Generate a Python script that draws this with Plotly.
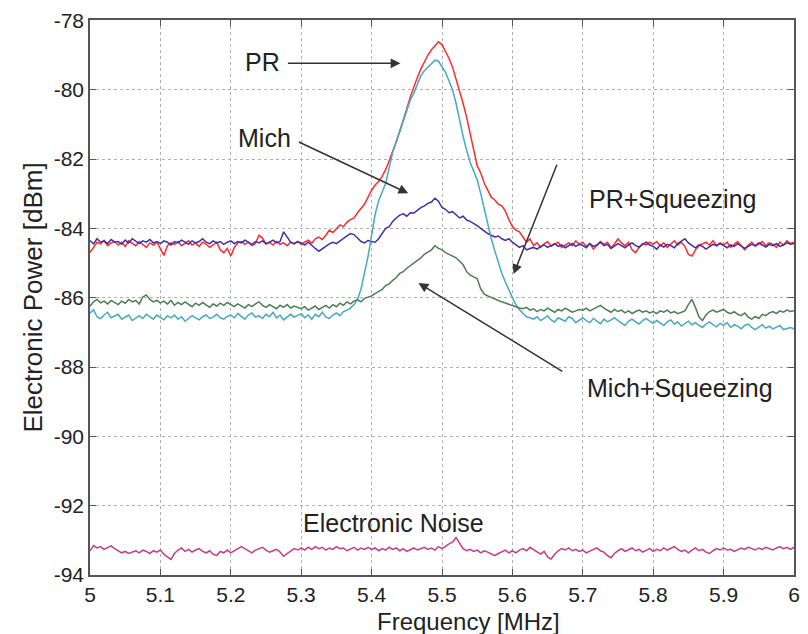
import numpy as np
import plotly.graph_objects as go

# frequency grid (MHz), 0.005 MHz steps from 5.0 to 6.0
freq = np.round(np.linspace(5.0, 6.0, 201), 3)

pr = [
    -84.70, -84.55, -84.40, -84.45, -84.35, -84.50, -84.42, -84.38, -84.48, -84.40, -84.52, -84.36, -84.44, -84.50, -84.38, -84.46, -84.55, -84.42, -84.48, -84.40,
    -84.60, -84.78, -84.50, -84.42, -84.46, -84.38, -84.50, -84.44, -84.36, -84.48, -84.42, -84.52, -84.40, -84.46, -84.55, -84.48, -84.40, -84.62, -84.70, -84.58,
    -84.80, -84.55, -84.42, -84.38, -84.46, -84.40, -84.50, -84.44, -84.20, -84.28, -84.45, -84.40, -84.48, -84.38, -84.46, -84.42, -84.50, -84.40, -84.45, -84.38,
    -84.46, -84.40, -84.34, -84.42, -84.30, -84.25, -84.32, -84.20, -84.05, -84.12, -84.00, -83.90, -83.95, -83.82, -83.75, -83.70, -83.55, -83.42, -83.30, -83.10,
    -82.90, -82.75, -82.65, -82.50, -82.30, -82.05, -81.80, -81.50, -81.20, -80.90, -80.55, -80.20, -79.90, -79.65, -79.40, -79.20, -79.00, -78.85, -78.75, -78.62,
    -78.70, -78.90, -79.10, -79.35, -79.70, -80.00, -80.40, -80.80, -81.30, -81.75, -82.20, -82.40, -82.70, -82.90, -83.10, -83.18, -83.30, -83.35, -83.50, -83.75,
    -83.95, -84.05, -84.10, -84.25, -84.40, -84.30, -84.50, -84.42, -84.55, -84.45, -84.38, -84.52, -84.46, -84.40, -84.55, -84.48, -84.42, -84.50, -84.36, -84.46,
    -84.40, -84.52, -84.44, -84.60, -84.50, -84.38, -84.46, -84.40, -84.55, -84.45, -84.30, -84.42, -84.50, -84.40, -84.62, -84.70, -84.55, -84.44, -84.48, -84.40,
    -84.46, -84.38, -84.50, -84.42, -84.55, -84.45, -84.36, -84.48, -84.40, -84.52, -84.75, -84.80, -84.62, -84.50, -84.44, -84.40, -84.48, -84.36, -84.50, -84.42,
    -84.48, -84.40, -84.55, -84.45, -84.38, -84.50, -84.62, -84.48, -84.40, -84.52, -84.44, -84.38, -84.50, -84.42, -84.46, -84.55, -84.40, -84.48, -84.36, -84.44,
    -84.40,
]

mich = [
    -84.35, -84.45, -84.30, -84.40, -84.36, -84.44, -84.32, -84.40, -84.38, -84.46, -84.34, -84.42, -84.30, -84.38, -84.44, -84.36, -84.40, -84.32, -84.42, -84.38,
    -84.44, -84.36, -84.40, -84.48, -84.38, -84.42, -84.34, -84.40, -84.46, -84.36, -84.42, -84.38, -84.30, -84.40, -84.44, -84.36, -84.42, -84.38, -84.46, -84.40,
    -84.36, -84.44, -84.38, -84.42, -84.34, -84.40, -84.46, -84.38, -84.42, -84.36, -84.44, -84.40, -84.34, -84.42, -84.38, -84.10, -84.25, -84.40, -84.44, -84.38,
    -84.42, -84.48, -84.40, -84.50, -84.58, -84.66, -84.60, -84.52, -84.45, -84.40, -84.44, -84.36, -84.30, -84.22, -84.15, -84.18, -84.28, -84.38, -84.42, -84.35,
    -84.38, -84.40, -84.30, -84.15, -84.00, -83.95, -83.80, -83.70, -83.62, -83.58, -83.65, -83.55, -83.56, -83.48, -83.40, -83.35, -83.28, -83.24, -83.13, -83.22,
    -83.40, -83.45, -83.55, -83.52, -83.60, -83.70, -83.65, -83.76, -83.80, -83.85, -83.92, -84.00, -84.08, -84.15, -84.20, -84.25, -84.22, -84.30, -84.35, -84.30,
    -84.40, -84.48, -84.55, -84.50, -84.62, -84.58, -84.55, -84.60, -84.52, -84.48, -84.55, -84.50, -84.44, -84.52, -84.48, -84.56, -84.50, -84.44, -84.52, -84.46,
    -84.50, -84.56, -84.44, -84.52, -84.48, -84.40, -84.50, -84.46, -84.58, -84.52, -84.44, -84.50, -84.56, -84.48, -84.42, -84.50, -84.54, -84.46, -84.40, -84.48,
    -84.52, -84.60, -84.48, -84.54, -84.46, -84.50, -84.56, -84.44, -84.38, -84.30, -84.42, -84.50, -84.56, -84.48, -84.52, -84.60, -84.54, -84.46, -84.50, -84.44,
    -84.50, -84.56, -84.48, -84.52, -84.44, -84.50, -84.58, -84.52, -84.46, -84.50, -84.42, -84.48, -84.54, -84.46, -84.50, -84.44, -84.52, -84.48, -84.42, -84.46,
    -84.44,
]

pr_sq = [
    -86.45, -86.35, -86.55, -86.60, -86.50, -86.42, -86.58, -86.52, -86.48, -86.62, -86.55, -86.50, -86.66, -86.58, -86.52, -86.60, -86.48, -86.55, -86.62, -86.50,
    -86.56, -86.64, -86.52, -86.58, -86.50, -86.62, -86.55, -86.68, -86.60, -86.52, -86.58, -86.64, -86.55, -86.50, -86.60, -86.56, -86.48, -86.58, -86.62, -86.54,
    -86.50, -86.58, -86.46, -86.55, -86.62, -86.50, -86.44, -86.56, -86.52, -86.60, -86.48, -86.55, -86.42, -86.58, -86.50, -86.64, -86.55, -86.48, -86.56, -86.52,
    -86.46, -86.58, -86.50, -86.62, -86.48, -86.55, -86.42, -86.56, -86.60, -86.50, -86.44, -86.52, -86.40, -86.36, -86.30, -86.20, -86.05, -85.75, -85.30, -84.80,
    -84.20, -83.60, -83.20, -82.95, -82.70, -82.25, -81.80, -81.50, -81.20, -80.85, -80.60, -80.30, -80.10, -79.85, -79.60, -79.45, -79.35, -79.22, -79.15, -79.18,
    -79.35, -79.50, -79.75, -80.00, -80.40, -80.90, -81.35, -81.75, -82.10, -82.35, -82.60, -83.00, -83.45, -83.90, -84.30, -84.65, -85.00, -85.30, -85.55, -85.80,
    -86.00, -86.20, -86.35, -86.45, -86.55, -86.58, -86.62, -86.55, -86.66, -86.60, -86.52, -86.64, -86.70, -86.58, -86.62, -86.68, -86.55, -86.60, -86.72, -86.64,
    -86.58, -86.66, -86.72, -86.60, -86.68, -86.75, -86.62, -86.70, -86.64, -86.58, -86.66, -86.72, -86.80, -86.68, -86.62, -86.70, -86.76, -86.66, -86.60, -86.68,
    -86.74, -86.66, -86.72, -86.80, -86.70, -86.64, -86.76, -86.70, -86.82, -86.74, -86.68, -86.78, -86.72, -86.80, -86.86, -86.76, -86.70, -86.78, -86.84, -86.74,
    -86.80, -86.72, -86.86, -86.78, -86.82, -86.90, -86.80, -86.76, -86.86, -86.92, -86.84, -86.78, -86.88, -86.82, -86.90, -86.86, -86.80, -86.92, -86.88, -86.86,
    -86.90,
]

mich_sq = [
    -86.25, -86.12, -86.05, -86.15, -86.10, -86.18, -86.08, -86.14, -86.20, -86.10, -86.16, -86.05, -86.12, -86.08, -86.18, -85.98, -85.92, -86.05, -86.12, -86.08,
    -86.15, -86.10, -86.18, -86.08, -86.22, -86.14, -86.20, -86.12, -86.18, -86.26, -86.16, -86.22, -86.14, -86.20, -86.28, -86.18, -86.24, -86.16, -86.22, -86.14,
    -86.20, -86.26, -86.18, -86.24, -86.30, -86.20, -86.26, -86.18, -86.12, -86.22, -86.28, -86.20, -86.26, -86.32, -86.22, -86.28, -86.20, -86.30, -86.24, -86.28,
    -86.32, -86.26, -86.36, -86.30, -86.24, -86.34, -86.28, -86.22, -86.30, -86.20, -86.26, -86.16, -86.22, -86.12, -86.18, -86.10, -86.06, -86.12, -86.02, -85.98,
    -85.95, -85.88, -85.82, -85.76, -85.65, -85.60, -85.50, -85.42, -85.30, -85.25, -85.15, -85.08, -85.00, -84.92, -84.85, -84.75, -84.68, -84.62, -84.50, -84.58,
    -84.62, -84.70, -84.75, -84.80, -84.85, -84.95, -85.05, -85.25, -85.35, -85.40, -85.45, -85.75, -85.90, -85.95, -86.00, -86.05, -86.08, -86.12, -86.15, -86.20,
    -86.22, -86.26, -86.30, -86.32, -86.28, -86.36, -86.32, -86.40, -86.34, -86.38, -86.30, -86.36, -86.42, -86.34, -86.38, -86.30, -86.36, -86.42, -86.38, -86.34,
    -86.36, -86.30, -86.38, -86.32, -86.26, -86.22, -86.30, -86.36, -86.42, -86.34, -86.40, -86.36, -86.44, -86.38, -86.46, -86.40, -86.36, -86.42, -86.38, -86.44,
    -86.40, -86.46, -86.38, -86.42, -86.36, -86.44, -86.40, -86.46, -86.42, -86.38, -86.20, -86.05, -86.28, -86.55, -86.66, -86.50, -86.40, -86.36, -86.42, -86.38,
    -86.34, -86.42, -86.46, -86.40, -86.48, -86.52, -86.44, -86.56, -86.62, -86.54, -86.60, -86.48, -86.52, -86.44, -86.40, -86.46, -86.38, -86.42, -86.36, -86.40,
    -86.38,
]

noise = [
    -93.30, -93.15, -93.22, -93.18, -93.26, -93.20, -93.16, -93.24, -93.30, -93.36, -93.32, -93.38, -93.34, -93.30, -93.36, -93.28, -93.32, -93.38, -93.30, -93.34,
    -93.28, -93.40, -93.48, -93.55, -93.38, -93.28, -93.22, -93.32, -93.26, -93.34, -93.28, -93.24, -93.32, -93.36, -93.30, -93.40, -93.44, -93.32, -93.36, -93.28,
    -93.36, -93.30, -93.26, -93.18, -93.24, -93.30, -93.36, -93.28, -93.24, -93.20, -93.28, -93.34, -93.30, -93.26, -93.34, -93.46, -93.38, -93.30, -93.24, -93.28,
    -93.22, -93.28, -93.20, -93.26, -93.18, -93.24, -93.20, -93.28, -93.22, -93.26, -93.18, -93.24, -93.22, -93.30, -93.24, -93.20, -93.28, -93.22, -93.26, -93.20,
    -93.26, -93.22, -93.30, -93.24, -93.28, -93.20, -93.26, -93.22, -93.30, -93.24, -93.32, -93.26, -93.22, -93.28, -93.24, -93.20, -93.26, -93.22, -93.28, -93.18,
    -93.24, -93.16, -93.10, -93.05, -92.92, -93.08, -93.24, -93.30, -93.26, -93.32, -93.28, -93.36, -93.30, -93.34, -93.40, -93.44, -93.38, -93.32, -93.28, -93.36,
    -93.30, -93.36, -93.28, -93.24, -93.30, -93.20, -93.26, -93.34, -93.40, -93.32, -93.48, -93.54, -93.40, -93.30, -93.24, -93.28, -93.22, -93.30, -93.26, -93.32,
    -93.28, -93.36, -93.30, -93.26, -93.22, -93.30, -93.34, -93.44, -93.50, -93.38, -93.30, -93.24, -93.32, -93.28, -93.22, -93.30, -93.26, -93.34, -93.28, -93.24,
    -93.32, -93.26, -93.30, -93.22, -93.28, -93.24, -93.18, -93.26, -93.32, -93.28, -93.36, -93.28, -93.22, -93.30, -93.26, -93.34, -93.38, -93.30, -93.24, -93.28,
    -93.22, -93.28, -93.26, -93.32, -93.28, -93.22, -93.26, -93.20, -93.24, -93.28, -93.22, -93.26, -93.20, -93.24, -93.28, -93.22, -93.18, -93.24, -93.20, -93.26,
    -93.20,
]

x_tickvals = [5.0, 5.1, 5.2, 5.3, 5.4, 5.5, 5.6, 5.7, 5.8, 5.9, 6.0]
x_ticktext = ["5", "5.1", "5.2", "5.3", "5.4", "5.5", "5.6", "5.7", "5.8", "5.9", "6"]
y_tickvals = [-94, -92, -90, -88, -86, -84, -82, -80, -78]
y_ticktext = ["-94", "-92", "-90", "-88", "-86", "-84", "-82", "-80", "-78"]

# labels: (text, x, y)
labels = [
    ("PR", 5.245, -79.21),
    ("Mich", 5.2475, -81.40),
    ("PR+Squeezing", 5.828, -83.16),
    ("Mich+Squeezing", 5.838, -88.60),
    ("Electronic Noise", 5.431, -92.50),
]
# arrows: (tail_x, tail_y, head_x, head_y)
arrows = [
    (5.279, -79.24, 5.441, -79.24),
    (5.2945, -81.49, 5.452, -82.99),
    (5.664, -82.12, 5.6017, -85.32),
    (5.673, -88.15, 5.4666, -85.58),
]

FONT = "Liberation Sans, Arial, Helvetica, sans-serif"

fig = go.Figure()
series = [
    ("PR", pr, "#ff2b2b"),
    ("Mich", mich, "#3f2fb0"),
    ("PR+Squeezing", pr_sq, "#45a9c2"),
    ("Mich+Squeezing", mich_sq, "#4c7d55"),
    ("Electronic Noise", noise, "#c43d86"),
]
for name, vals, col in series:
    fig.add_trace(go.Scatter(x=freq, y=vals, mode="lines", name=name,
                             line=dict(color=col, width=1.5), showlegend=False))

for text, x, y in labels:
    fig.add_annotation(x=x, y=y, text=text, showarrow=False,
                       font=dict(family=FONT, size=25, color="#222"))
for tx, ty, hx, hy in arrows:
    fig.add_annotation(x=hx, y=hy, ax=tx, ay=ty, xref="x", yref="y",
                       axref="x", ayref="y", text="", showarrow=True,
                       arrowhead=2, arrowsize=1.3, arrowwidth=1.5,
                       arrowcolor="#333")

# x-axis title (placed as in the reference, slightly right of centre)
fig.add_annotation(xref="paper", yref="paper", x=0.537, y=-0.083,
                   xanchor="center", yanchor="middle", showarrow=False,
                   text="Frequency [MHz]",
                   font=dict(family=FONT, size=24, color="#222"))

axis_common = dict(
    showline=True, linecolor="#555", linewidth=1.5, mirror="ticks",
    ticks="inside", ticklen=6, tickcolor="#555", tickwidth=1.2,
    showgrid=True, gridcolor="#b0b0b0", griddash="dot", gridwidth=1,
    zeroline=False, tickfont=dict(family=FONT, size=21, color="#222"),
)
fig.update_xaxes(range=[5, 6], tickvals=x_tickvals, ticktext=x_ticktext,
                 **axis_common)
fig.update_yaxes(range=[-94, -77.99], tickvals=y_tickvals, ticktext=y_ticktext,
                 title=dict(text="Electronic Power [dBm]", standoff=4,
                            font=dict(family=FONT, size=26, color="#222")),
                 **axis_common)

# page body has an 8px margin: size the figure to fit the 808x634 window
fig.update_layout(
    width=800, height=626,
    margin=dict(l=82, r=14, t=12, b=59, autoexpand=False),
    paper_bgcolor="white", plot_bgcolor="white",
)

fig.write_html("out.html")
